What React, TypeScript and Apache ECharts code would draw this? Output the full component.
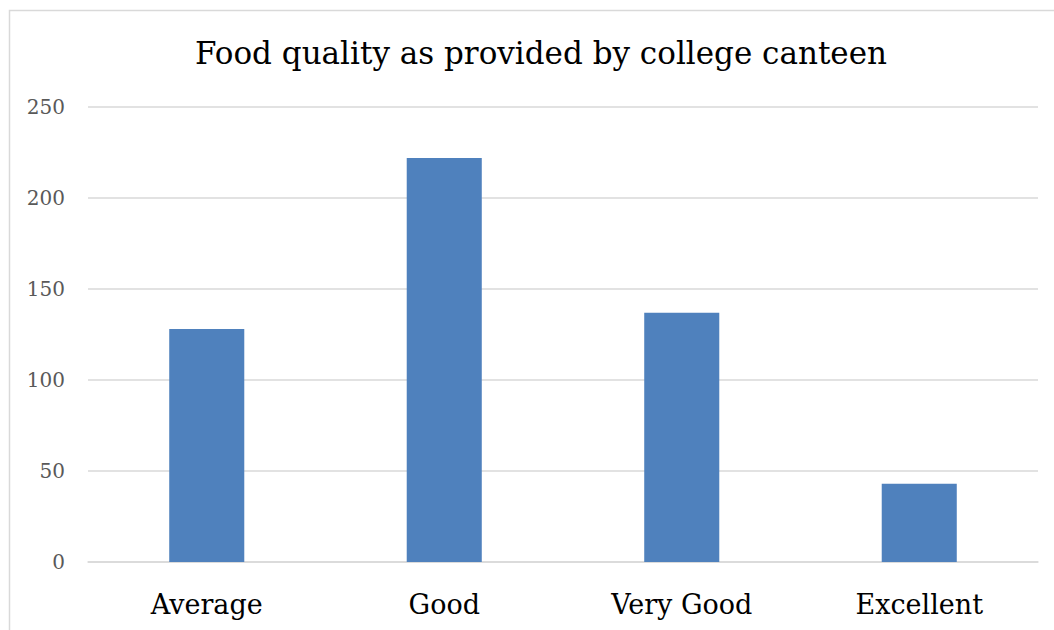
import React, { useEffect, useRef } from "react";
import * as echarts from "echarts";

const titleText = "Food quality as provided by college canteen";
const categories = ["Average", "Good", "Very Good", "Excellent"];
const values = [128, 222, 137, 43];
const yTicks = [0, 50, 100, 150, 200, 250];

const FONT = "'DejaVu Serif', 'Liberation Serif', serif";

export default function App() {
  const ref = useRef<HTMLDivElement>(null);
  useEffect(() => {
    if (!ref.current) return;
    const chart = echarts.init(ref.current, null, { renderer: "svg" });
    chart.setOption({
      animation: false,
      backgroundColor: "#ffffff",
      title: {
        text: titleText,
        left: 536,
        top: 32,
        textAlign: "center",
        textStyle: { fontFamily: FONT, fontSize: 31, fontWeight: "normal", color: "#000000" },
      },
      graphic: [
        {
          type: "rect",
          shape: { x: 9.5, y: 10.5, width: 1100, height: 700 },
          style: { fill: "none", stroke: "#d9d9d9", lineWidth: 1.5 },
          silent: true,
          z: -1,
        },
      ],
      grid: { left: 88, right: 16, top: 107, bottom: 68, containLabel: false },
      xAxis: {
        type: "category",
        data: categories,
        axisLine: { lineStyle: { color: "#d9d9d9", width: 1.5 } },
        axisTick: { show: false },
        axisLabel: { fontFamily: FONT, fontSize: 27, color: "#000000", margin: 29 },
      },
      yAxis: {
        type: "value",
        min: yTicks[0],
        max: yTicks[yTicks.length - 1],
        interval: 50,
        axisLine: { show: false },
        axisTick: { show: false },
        axisLabel: { fontFamily: FONT, fontSize: 20, color: "#595959", margin: 23 },
        splitLine: { lineStyle: { color: "#d9d9d9", width: 1.5 } },
      },
      series: [
        {
          type: "bar",
          data: values,
          barWidth: "31.6%",
          itemStyle: { color: "#4f81bd" },
        },
      ],
    });
    return () => chart.dispose();
  }, []);
  return <div ref={ref} style={{ position: "fixed", left: 0, top: 0, width: 1054, height: 630 }} />;
}
